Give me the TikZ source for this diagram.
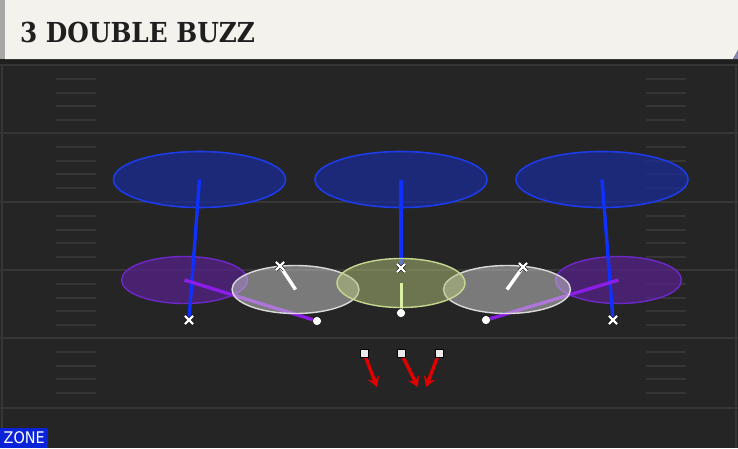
\documentclass[tikz,border=0pt]{standalone}
\usepackage{fontspec}
\usepackage{tikz}
\usetikzlibrary{shapes.geometric, shapes.misc, arrows.meta, positioning}
\newfontfamily\titlefont{DejaVu Serif Condensed}
\newfontfamily\tagfont{DejaVu Sans Condensed}

\definecolor{fieldbg}{HTML}{252525}
\definecolor{fieldline}{HTML}{363636}
\definecolor{headbg}{HTML}{F4F2EC}
\definecolor{deepblue}{HTML}{182C9C}
\definecolor{deepedge}{HTML}{1D3BE8}
\definecolor{flatpurple}{HTML}{58218E}
\definecolor{flatedge}{HTML}{6E28C8}
\definecolor{curlgray}{HTML}{D0D0D0}
\definecolor{curledge}{HTML}{DADADA}
\definecolor{hookgreen}{HTML}{B4C47C}
\definecolor{hookedge}{HTML}{C4D890}
\definecolor{runblue}{HTML}{1030FF}
\definecolor{runpurple}{HTML}{8A1EE6}
\definecolor{rungreen}{HTML}{D8F0A0}
\definecolor{rushred}{HTML}{E00000}
\definecolor{zoneblue}{HTML}{0A22D8}

\tikzstyle{deep} = [ellipse, draw=deepedge, line width=1.6pt, fill=deepblue, fill opacity=0.7, minimum width=172pt, minimum height=56pt, inner sep=0pt]
\tikzstyle{flat} = [ellipse, draw=flatedge, line width=1.4pt, fill=flatpurple, fill opacity=0.7, minimum width=126pt, minimum height=47pt, inner sep=0pt]
\tikzstyle{curl} = [ellipse, draw=curledge, line width=1.4pt, fill=curlgray, fill opacity=0.5, minimum width=127pt, minimum height=48pt, inner sep=0pt]
\tikzstyle{hook} = [ellipse, draw=hookedge, line width=1.4pt, fill=hookgreen, fill opacity=0.5, minimum width=128pt, minimum height=49pt, inner sep=0pt]
\tikzstyle{xmark} = [cross out, draw=white, line width=2.2pt, minimum size=6pt, inner sep=0pt, preaction={draw=black, line width=3.4pt}]
\tikzstyle{omark} = [circle, fill=white, draw=black, line width=0.4pt, minimum size=9pt, inner sep=0pt]
\tikzstyle{smark} = [rectangle, fill=white!92!black, draw=black, line width=0.4pt, minimum size=8.5pt, inner sep=0pt]
\tikzstyle{runline} = [line width=3.4pt]
\tikzstyle{rush} = [rushred, line width=3.4pt, -{Stealth[length=10pt,width=12pt,inset=3.5pt]}]
\tikzstyle{yardline} = [fieldline, line width=1.5pt]

\pgfdeclarelayer{field}
\pgfdeclarelayer{low}
\pgfdeclarelayer{runs}
\pgfdeclarelayer{high}
\pgfdeclarelayer{top}
\pgfsetlayers{field,low,runs,high,main,top}

\begin{document}
\begin{tikzpicture}[x=1pt, y=-1pt]
    \useasboundingbox (0,0) rectangle (738,448);

    % Field and header
    \begin{pgfonlayer}{field}
        \fill[fieldbg] (0,0) rectangle (738,448);
        \fill[black!88] (0,59) rectangle (738,65);
        \foreach \y in {65,133,202,270,338,408}
            \draw[yardline] (0,\y) -- (738,\y);
        \draw[yardline] (2,65) -- (2,448);
        \draw[yardline] (736,65) -- (736,448);
        \foreach \y in {65,133,202,270,338}
            \foreach \off in {14,28,41,55} {
                \draw[yardline, line width=1.2pt] (56,\y+\off) -- (96,\y+\off);
                \draw[yardline, line width=1.2pt] (646,\y+\off) -- (686,\y+\off);
            }
        \fill[black!35] (0,0) rectangle (5,59);
        \fill[headbg] (5,0) -- (738,0) -- (738,50) -- (733,59) -- (5,59) -- cycle;
        \fill[gray!80!blue!80] (733,59) -- (738,50) -- (738,59) -- cycle;
    \end{pgfonlayer}

    \node (title) [anchor=base west, inner sep=0pt, text=black!88, font=\titlefont\bfseries\fontsize{27.5}{27.5}\selectfont] at (20,42) {3 DOUBLE BUZZ};
    \node (zonetag) [anchor=south west, fill=zoneblue, text=white, inner sep=0pt, minimum width=48pt, minimum height=20pt, font=\tagfont\fontsize{16}{16}\selectfont] at (0,448) {ZONE};

    % Zones
    \begin{pgfonlayer}{low}
        \node (deepL) [deep] at (199.5,179.5) {};
        \node (deepM) [deep] at (401,179.5) {};
        \node (deepR) [deep] at (602,179.5) {};
        \node (flatL) [flat] at (184.5,280) {};
        \node (flatR) [flat] at (618.5,280) {};
    \end{pgfonlayer}
    \begin{pgfonlayer}{high}
        \node (curlL) [curl] at (295.5,289.5) {};
        \node (curlR) [curl] at (507,289.5) {};
        \node (hookM) [hook] at (401,283) {};
    \end{pgfonlayer}

    % Defenders and offense
    \begin{pgfonlayer}{top}
        \node (cbL) [xmark] at (189,320) {};
        \node (cbR) [xmark] at (613,320) {};
        \node (mlb) [xmark] at (401,268) {};
        \node (olbL) [xmark] at (280,266) {};
        \node (olbR) [xmark] at (523,267) {};
        \node (dlL) [omark] at (317,321) {};
        \node (dlM) [omark] at (401,313) {};
        \node (dlR) [omark] at (486,320) {};
        \node (rushL) [smark] at (364,353) {};
        \node (rushM) [smark] at (401,353) {};
        \node (rushR) [smark] at (439,353) {};
    \end{pgfonlayer}

    % Drops to deep and flat zones
    \begin{pgfonlayer}{runs}
        \draw[runline, runblue] (cbL.center) -- (deepL.center);
        \draw[runline, runblue] (mlb.center) -- (deepM.center);
        \draw[runline, runblue] (cbR.center) -- (deepR.center);
        \draw[runline, runpurple] (dlL.center) -- (flatL.center);
        \draw[runline, runpurple] (dlR.center) -- (flatR.center);
    \end{pgfonlayer}

    % Curl and hook drops
    \draw[runline, white] (olbL.center) -- (curlL.center);
    \draw[runline, white] (olbR.center) -- (curlR.center);
    \draw[runline, rungreen, line width=3pt] (dlM.center) -- (hookM.center);

    % Rush arrows
    \coordinate (endL) at (377,387);
    \coordinate (endM) at (418,387);
    \coordinate (endR) at (426,387);
    \draw[rush] (rushL.center) -- (endL);
    \draw[rush] (rushM.center) -- (endM);
    \draw[rush] (rushR.center) -- (endR);

\end{tikzpicture}
\end{document}
